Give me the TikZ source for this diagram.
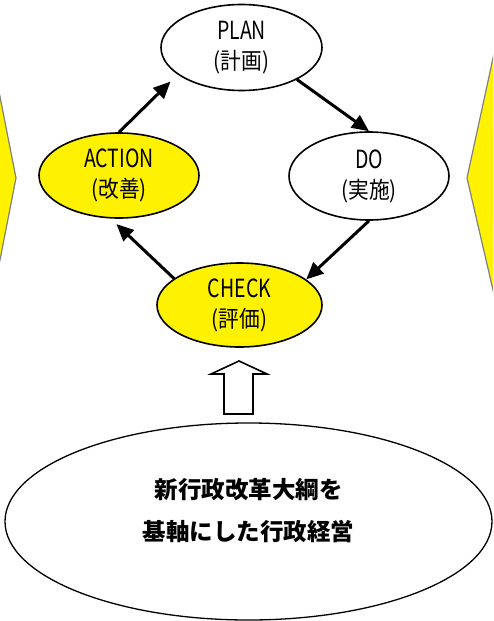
\documentclass[tikz,border=0pt]{standalone}
\usepackage{fontspec}
\setmainfont{Noto Sans CJK JP}
\usetikzlibrary{shapes.geometric,arrows.meta}
\newcommand{\latn}[1]{\scalebox{0.78}[1]{\fontsize{25}{30}\selectfont #1}}
\begin{document}
\begin{tikzpicture}[x=1pt,y=-1pt,
  phase/.style={ellipse,draw,line width=1.6pt,inner sep=0pt,minimum width=161pt,minimum height=86pt,align=center,font=\fontsize{23}{30}\selectfont},
  yphase/.style={phase,fill=yellow},
  cyc/.style={line width=3pt,-{Triangle[length=17pt,width=15pt]}},
  side/.style={fill=yellow,draw=gray,line width=1.2pt},
  blockarrow/.style={draw,fill=white,line width=1.6pt,line join=miter}]
\useasboundingbox (0,0) rectangle (493,621);
\begin{scope}
  \clip (0,0) rectangle (493,621);
  \draw[side] (-10,46) -- (16,178) -- (-10,311) -- cycle;
  \draw[side] (503,12) -- (467,178) -- (503,333) -- cycle;
\end{scope}
\node[phase]  (P) at (241.5,47.5) {\latn{PLAN}\\\scalebox{0.9}[1]{(計画)}};
\node[yphase, minimum width=160pt, minimum height=85pt] (A) at (119,175.5) {\latn{ACTION}\\\scalebox{0.9}[1]{(改善)}};
\node[phase, minimum width=160pt, minimum height=88pt] (D) at (369,176) {\latn{DO}\\\scalebox{0.9}[1]{(実施)}};
\node[yphase, minimum width=165pt, minimum height=84pt] (C) at (239.5,305) {\latn{CHECK}\\\scalebox{0.9}[1]{(評価)}};
\draw[cyc, shorten >=10pt] (A.north) -- (P.203);
\draw[cyc] (P.-30) -- (D.north);
\draw[cyc] (D.south) -- (C.21);
\draw[cyc, shorten >=8pt] (C.158) -- (A.259);
\node[ellipse,draw,line width=1.3pt,inner sep=0pt,minimum width=487pt,minimum height=197pt] (B) at (248.5,521.5) {};
\node[align=center,font=\bfseries\fontsize{23.5}{42}\selectfont] (BT) at (248.5,511) {新行政改革大綱を\\基軸にした行政経営};
\draw[blockarrow] (224,414) -- (224,374) -- (211,374) -- (239,361) -- (267,374) -- (253,374) -- (253,414) -- cycle;
\end{tikzpicture}
\end{document}
